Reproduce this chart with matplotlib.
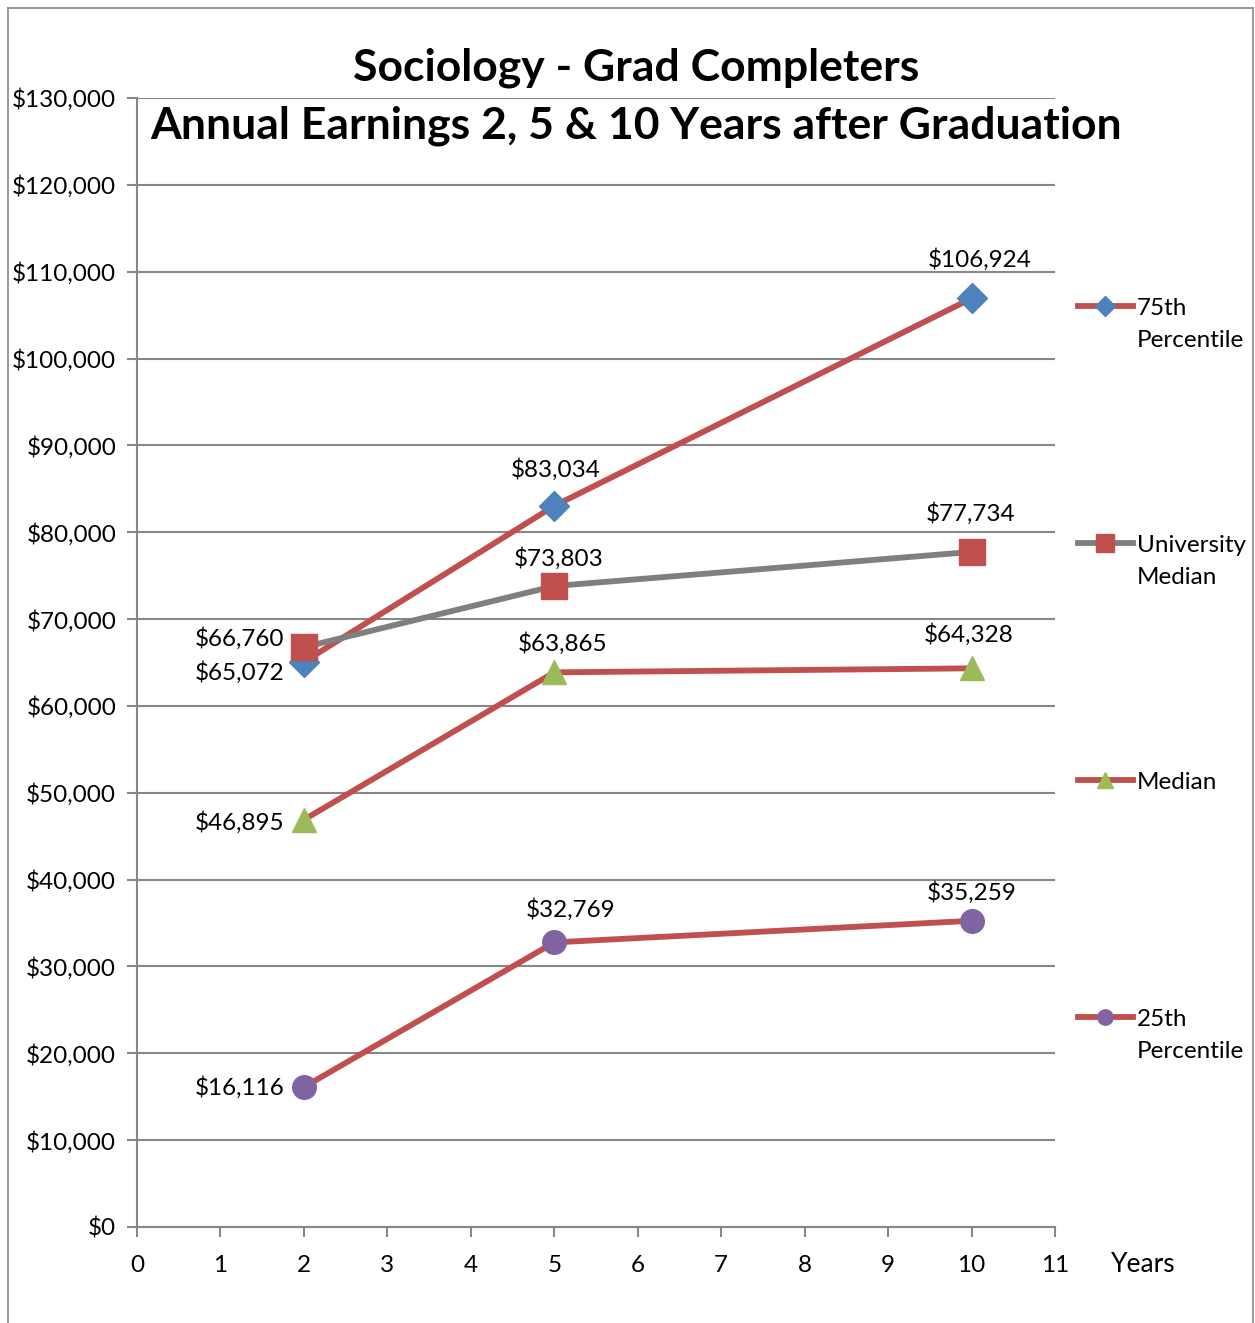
import matplotlib.pyplot as plt
from matplotlib.lines import Line2D

plt.rcParams["font.family"] = ["Lato", "DejaVu Sans"]

years = [2, 5, 10]
p75 = [65072, 83034, 106924]
uni_median = [66760, 73803, 77734]
median = [46895, 63865, 64328]
p25 = [16116, 32769, 35259]

series_names = ["75th\nPercentile", "University\nMedian", "Median", "25th\nPercentile"]

red = "#C0504D"
blue = "#4F81BD"
green = "#9BBB59"
purple = "#8064A2"
gray = "#7F7F7F"
grid_c = "#878787"

fig = plt.figure(figsize=(12.55, 13.23), dpi=100)
ax = fig.add_axes([137 / 1255, 1 - 1227 / 1323, (1055 - 137) / 1255, (1227 - 98) / 1323])

# lignes + marqueurs
styles = [
    (p75, red, "D", blue, 15),
    (uni_median, gray, "s", red, 19),
    (median, red, "^", green, 17),
    (p25, red, "o", purple, 17),
]
for vals, lc, mk, mc, ms in styles:
    ax.plot(years, vals, color=lc, lw=4.2, marker=mk, markersize=ms,
            markerfacecolor=mc, markeredgecolor=mc, zorder=3)

# étiquettes des valeurs (décalages en points)
offsets = {
    "p75": [None, (1, 26), (6, 28)],
    "uni": [None, (3, 20), (-1, 28)],
    "med": [None, (6, 21), (-2, 24)],
    "p25": [None, (12, 24), (0, 20)],
}
fs_lab = 17.5
for vals, key in [(p75, "p75"), (uni_median, "uni"), (median, "med"), (p25, "p25")]:
    for i, (x, v) in enumerate(zip(years, vals)):
        if i == 0:
            continue
        ax.annotate("${:,}".format(v), (x, v), xytext=offsets[key][i],
                    textcoords="offset points", ha="center", va="center",
                    fontsize=fs_lab, zorder=5)

# les points à 2 ans : texte à gauche
left_off = [(-14, -8), (-14, 6), (-14, -2), (-14, 0)]
for vals, off in zip([p75, uni_median, median, p25], left_off):
    ax.annotate("${:,}".format(vals[0]), (years[0], vals[0]), xytext=off,
                textcoords="offset points", ha="right", va="center",
                fontsize=fs_lab, zorder=5)

ax.set_xlim(0, 11)
ax.set_ylim(0, 130000)
ax.set_xticks(range(0, 12))
ax.set_yticks(range(0, 130001, 10000))
ax.set_yticklabels(["${:,}".format(v) for v in range(0, 130001, 10000)])
ax.tick_params(axis="both", labelsize=17.5, color=grid_c, width=1.5, length=7)
ax.tick_params(axis="x", pad=13)
ax.tick_params(axis="y", pad=8)
ax.grid(axis="y", color=grid_c, lw=1.5)
ax.set_axisbelow(True)
for s in ["top", "right"]:
    ax.spines[s].set_visible(False)
for s in ["left", "bottom"]:
    ax.spines[s].set_color(grid_c)
    ax.spines[s].set_linewidth(1.5)

fig.text(1143 / 1255, 1 - 1265 / 1323, "Years", fontsize=19, ha="center", va="center")

# titre
fig.text(636 / 1255, 1 - 68 / 1323, "Sociology - Grad Completers", fontsize=32,
         fontweight="bold", ha="center", va="center")
fig.text(636 / 1255, 1 - 126 / 1323, "Annual Earnings 2, 5 & 10 Years after Graduation",
         fontsize=32, fontweight="bold", ha="center", va="center")

# légende manuelle
leg_y = [306, 543, 780, 1017]
for (vals, lc, mk, mc, ms), name, y in zip(styles, series_names, leg_y):
    yf = 1 - y / 1323
    fig.add_artist(Line2D([1078 / 1255, 1133 / 1255], [yf, yf], color=lc, lw=4.2,
                          transform=fig.transFigure))
    fig.add_artist(Line2D([1105 / 1255], [yf], marker=mk, markersize=ms * 0.65,
                          color=mc, transform=fig.transFigure))
    fig.text(1137 / 1255, yf + 8 / 1323, name, fontsize=17.5, ha="left", va="top",
             linespacing=1.65)

# cadre de la figure
for xs, ys in [([8, 8], [8, 1323]), ([8, 1253], [8, 8]), ([1253, 1253], [8, 1323])]:
    fig.add_artist(Line2D([x / 1255 for x in xs], [1 - y / 1323 for y in ys],
                          color="#888888", lw=1.2, transform=fig.transFigure))

fig.savefig("out.png", dpi=100)
